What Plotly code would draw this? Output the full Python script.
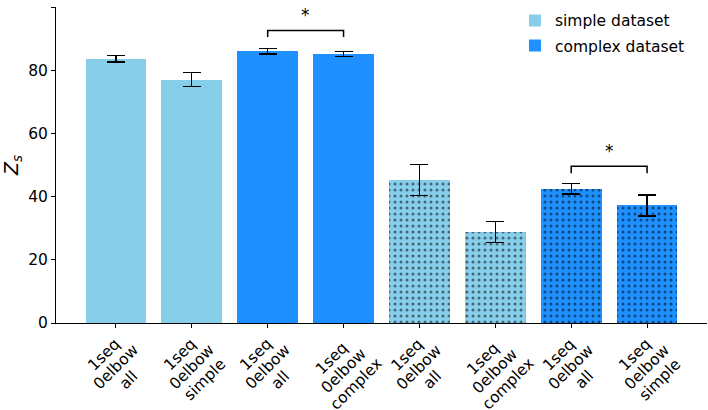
import plotly.graph_objects as go

# ---- data ----
tick_lines = [
    ["1seq", "0elbow", "all"], ["1seq", "0elbow", "simple"],
    ["1seq", "0elbow", "all"], ["1seq", "0elbow", "complex"],
    ["1seq", "0elbow", "all"], ["1seq", "0elbow", "complex"],
    ["1seq", "0elbow", "all"], ["1seq", "0elbow", "simple"],
]
positions = [0, 1, 2, 3, 4, 5, 6, 7]
values = [83.6, 77.0, 86.0, 85.2, 45.2, 28.8, 42.5, 37.2]
errors = [1.0, 2.2, 0.9, 0.8, 4.9, 3.4, 1.7, 3.3]
dataset = ["simple", "simple", "complex", "complex", "simple", "simple", "complex", "complex"]
dotted = [False, False, False, False, True, True, True, True]
sig_pairs = [(2, 3, 92.6, 90.5, "*"), (6, 7, 49.6, 47.4, "*")]
y_ticks = [0, 20, 40, 60, 80, 100]

colors = {"simple": "#87CEEB", "complex": "#1E90FF"}
names = {"simple": "simple dataset", "complex": "complex dataset"}

LABEL_FS = 15.5
# approximate DejaVu Sans advance widths (em), used to place the rotated label lines
W = {'1': .636, 's': .521, 'e': .615, 'q': .635, '0': .636, 'l': .278, 'b': .635, 'o': .612,
     'w': .818, 'a': .613, 'i': .278, 'm': .974, 'p': .635, 'c': .55, 'x': .592}


def text_w(s):
    return sum(W.get(ch, .6) for ch in s) * LABEL_FS


fig = go.Figure()
for ds in ["simple", "complex"]:
    for dot in [False, True]:
        idx = [i for i in range(len(values)) if dataset[i] == ds and dotted[i] == dot]
        pattern = dict(shape=".", fgcolor="black", size=6, solidity=0.2, fillmode="overlay") if dot else dict(shape="")
        fig.add_trace(go.Bar(
            x=[positions[i] for i in idx],
            y=[values[i] for i in idx],
            error_y=dict(type="data", array=[errors[i] for i in idx], color="black", thickness=1.3, width=9),
            marker=dict(color=colors[ds], line=dict(width=0), pattern=pattern),
            width=0.8,
            name=names[ds],
            showlegend=not dot,
            legendgroup=ds,
        ))

for (a, b, ytop, yleg, txt) in sig_pairs:
    fig.add_shape(type="path",
                  path=f"M {a},{yleg} L {a},{ytop} L {b},{ytop} L {b},{yleg}",
                  line=dict(color="black", width=1.5), xref="x", yref="y")
    fig.add_annotation(x=(a + b) / 2, y=ytop + 1.0, text=txt, showarrow=False,
                       yanchor="bottom", font=dict(size=17, color="black"))

# rotated, centred category labels: one rotated line per annotation, stacked along the 45° direction
step = 12.5  # px between line centres along x and y (line height * cos45)
for pos, lines in zip(positions, tick_lines):
    wmax = max(text_w(l) for l in lines)
    centre = 44 + 0.4 * (wmax - text_w("0elbow"))
    n = len(lines)
    for k, ln in enumerate(lines):
        off = (k - (n - 1) / 2) * step
        fig.add_annotation(x=pos, xref="x", y=0, yref="paper", text=ln,
                           showarrow=False, textangle=-45,
                           xanchor="center", yanchor="middle",
                           xshift=off, yshift=-(centre + off),
                           font=dict(size=LABEL_FS, color="black"))

fig.update_layout(
    width=708, height=410,
    margin=dict(l=56, r=1, t=7, b=87),
    paper_bgcolor="white", plot_bgcolor="white",
    font=dict(family="DejaVu Sans", size=15.5, color="black"),
    barmode="overlay",
    bargap=0,
    legend=dict(x=0.705, y=1.01, xanchor="left", yanchor="top",
                bgcolor="rgba(0,0,0,0)", font=dict(size=15.5), tracegroupgap=2),
    xaxis=dict(range=[-0.79, 7.79], tickvals=positions, showticklabels=False,
               showline=True, linecolor="black", linewidth=1,
               ticks="outside", ticklen=4, tickcolor="black", showgrid=False, zeroline=False,
               automargin=False),
    yaxis=dict(range=[0, 100], tickvals=y_ticks,
               showline=True, linecolor="black", linewidth=1,
               ticks="outside", ticklen=4, tickcolor="black", showgrid=False, zeroline=False,
               title=dict(text="<i>Z</i><sub><i>s</i></sub>", standoff=10),
               tickfont=dict(size=15.5), automargin=False),
)

fig.write_html("out.html")
